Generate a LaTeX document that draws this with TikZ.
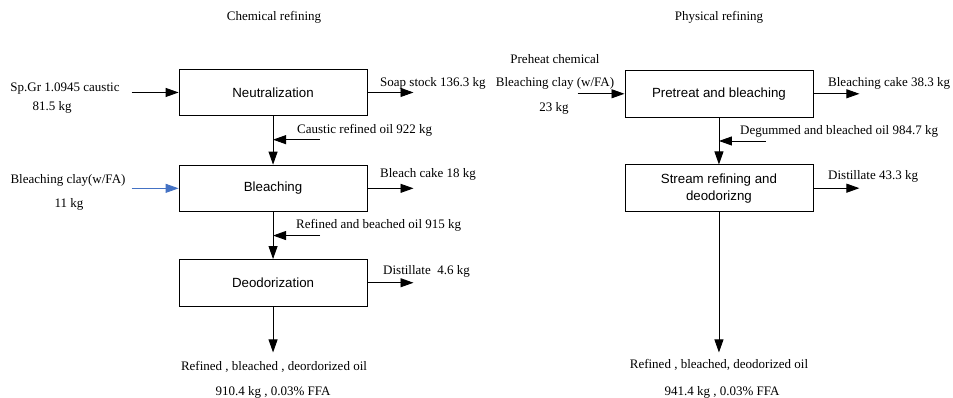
\documentclass[tikz,border=0pt]{standalone}
\usepackage{fontspec}
\setmainfont{Liberation Serif}
\setsansfont{Liberation Sans}
\usetikzlibrary{matrix,positioning,arrows.meta}
\definecolor{clayblue}{RGB}{68,114,196}

\begin{document}
\begin{tikzpicture}[
x=1pt, y=-1pt,
plain/.style={
  draw=none,
  fill=none,
  },
net/.style={
  matrix of nodes,
  nodes={
    draw,
    rectangle,
    line width=0.9pt,
    minimum width=188pt,
    minimum height=46.5pt,
    inner sep=0pt,
    font=\sffamily\fontsize{13.3}{17}\selectfont
    },
  nodes in empty cells,
  column sep=257pt,
  row sep=47pt
  },
lbl/.style={
  inner sep=0pt,
  font=\fontsize{13}{15}\selectfont
  },
flow/.style={->, line width=0.9pt},
>={Triangle[length=13pt,width=9pt]}
]

\useasboundingbox (0,0) rectangle (953,397);

\matrix[net] (mat) at (496,189.75)
{
Neutralization & Pretreat and bleaching \\
Bleaching & \parbox{5.5cm}{\centering Stream refining and\\deodorizng} \\
Deodorization & |[plain]| \\
};

% titles
\node[lbl] (chemT) at (274,17) {Chemical refining};
\node[lbl] (physT) at (719,17) {Physical refining};

% inputs
\node[lbl] (causticL) at (65,89) {Sp.Gr 1.0945 caustic};
\node[lbl] (causticM) at (52,107) {81.5 kg};
\node[lbl] (clayL) at (68,180) {Bleaching clay(w/FA)};
\node[lbl] (clayM) at (69,204) {11 kg};
\node[lbl] (preL) at (555,59) {Preheat chemical};
\node[lbl] (clay2L) at (555,83) {Bleaching clay (w/FA)};
\node[lbl] (clay2M) at (554,108) {23 kg};

% outputs
\node[lbl, anchor=west] (soapL) at (380,83) {Soap stock 136.3 kg};
\node[lbl, anchor=west] (cakeL) at (380,174) {Bleach cake 18 kg};
\node[lbl, anchor=west] (distL) at (383,271) {Distillate\ \ 4.6 kg};
\node[lbl, anchor=west] (cake2L) at (828,83) {Bleaching cake 38.3 kg};
\node[lbl, anchor=west] (dist2L) at (828,176) {Distillate 43.3 kg};

% oil streams
\node[lbl, anchor=west] (causticOil) at (297,130) {Caustic refined oil 922 kg};
\node[lbl, anchor=west] (refOil) at (296,225) {Refined and beached oil 915 kg};
\node[lbl, anchor=west] (degOil) at (740,131) {Degummed and bleached oil 984.7 kg};

% products
\node[lbl] (prod1L) at (274,367) {Refined , bleached , deordorized oil};
\node[lbl] (prod1M) at (273,392) {910.4 kg , 0.03\% FFA};
\node[lbl] (prod2L) at (719,365) {Refined , bleached, deodorized oil};
\node[lbl] (prod2M) at (722,392) {941.4 kg , 0.03\% FFA};

\coordinate (causticIn) at ([xshift=-47pt]mat-1-1.west);
\coordinate (clayIn) at ([xshift=-47pt]mat-2-1.west);
\coordinate (clay2In) at ([xshift=-47pt]mat-1-2.west);
\draw[flow] (causticIn) -- (mat-1-1.west);
\draw[flow, clayblue] (clayIn) -- (mat-2-1.west);
\draw[flow] (clay2In) -- (mat-1-2.west);

\foreach \r/\c in {1/1,2/1,3/1,1/2,2/2}
{
  \coordinate (out-\r-\c) at ([xshift=46pt]mat-\r-\c.east);
  \draw[flow] (mat-\r-\c.east) -- (out-\r-\c);
}

\foreach \a/\b in {1-1/2-1,2-1/3-1,1-2/2-2}
{
  \draw[flow] (mat-\a) -- (mat-\b);
  \coordinate (feed-\a) at ([xshift=47pt,yshift=-23.5pt]mat-\a.south);
  \draw[flow] (feed-\a) -- (feed-\a -| mat-\a.south);
}

\coordinate (prod-3-1) at ([yshift=-46pt]mat-3-1.south);
\coordinate (prod-2-2) at (mat-2-2.south |- prod-3-1);
\draw[flow] (mat-3-1) -- (prod-3-1);
\draw[flow] (mat-2-2) -- (prod-2-2);
\end{tikzpicture}
\end{document}
